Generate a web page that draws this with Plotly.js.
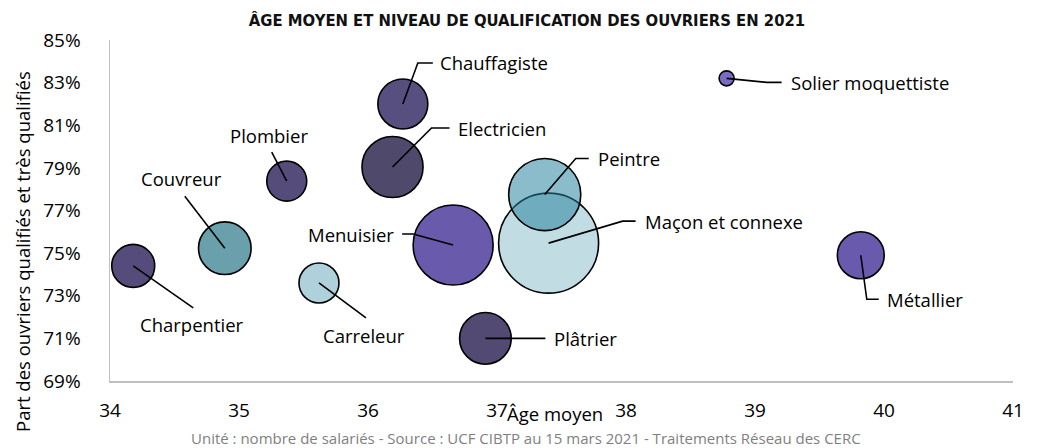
<!DOCTYPE html>
<html>
<head>
<meta charset="utf-8">
<script src="https://cdn.plot.ly/plotly-3.0.1.min.js"></script>
<style>html,body{margin:0;padding:0;background:#fff}#chart{width:1041px;height:448px}</style>
</head>
<body>
<div id="chart"></div>
<script>
// ---- Data ----
var metiers = ["Charpentier","Couvreur","Plombier","Carreleur","Menuisier","Electricien","Chauffagiste","Plâtrier","Maçon et connexe","Peintre","Solier moquettiste","Métallier"];
var ageMoyen = [34.18, 34.89, 35.37, 35.62, 36.66, 36.19, 36.27, 36.91, 37.40, 37.37, 38.78, 39.82];
var partQualifies = [0.744, 0.7523, 0.7838, 0.736, 0.7538, 0.7904, 0.820, 0.710, 0.7547, 0.7775, 0.832, 0.749];
var salaries = [27700, 41500, 24000, 24000, 96000, 56000, 37500, 40000, 150000, 78000, 3400, 33000];
var couleurs = ["#564c7c","#6aa0ac","#564c7c","#afd1db","#6a5aab","#4f4a6b","#574f80","#524a72","#c2dce3","rgba(40,131,159,0.54)","#7b6bc6","#6a5aae"];
// leader line geometry (pixel offsets from bubble centre) and label placement
var leaderPts = [
  [[0,0],[60,42]],
  [[0,0],[-40,-52]],
  [[0,0],[-15,-29]],
  [[0,0],[47,35]],
  [[0,0],[-40,-11],[-51,-11]],
  [[0,0],[39,-39],[57,-39]],
  [[0,0],[15,-41],[30,-41]],
  [[0,0],[60,0]],
  [[0,0],[74,-22],[87,-22]],
  [[0,0],[31,-36],[44,-36]],
  [[0,0],[40,4],[55,4]],
  [[0,0],[6,44],[18,44]]
];
var labelPos = [[59,59,"center"],[-43,-70,"center"],[-18,-46,"center"],[45,53,"center"],[-57,-11,"right"],[63,-39,"left"],[35,-41,"left"],[67,0,"left"],[94,-22,"left"],[51,-36,"left"],[62,4,"left"],[24,44,"left"]];

var xRange = [34, 41], yRange = [0.69, 0.85];
var M = {l:110, r:28, t:40, b:67};
var W = 1041, H = 448;
var pw = W - M.l - M.r, ph = H - M.t - M.b;
var ux = (xRange[1]-xRange[0])/pw, uy = (yRange[1]-yRange[0])/ph;
var FS = 18.5;

var lx = [], ly = [], ann = [];
for (var i = 0; i < metiers.length; i++) {
  leaderPts[i].forEach(function(p){ lx.push(ageMoyen[i] + p[0]*ux); ly.push(partQualifies[i] - p[1]*uy); });
  lx.push(null); ly.push(null);
  ann.push({x: ageMoyen[i] + labelPos[i][0]*ux, y: partQualifies[i] - labelPos[i][1]*uy, xref:'x', yref:'y',
    text: metiers[i], showarrow:false, xanchor: labelPos[i][2], yanchor:'middle',
    font:{family:'Open Sans', size:FS, color:'#000'}});
}
ann.push({text:'Part des ouvriers qualifiés et très qualifiés', textangle:-90, xref:'paper', yref:'paper',
  x:(22-M.l)/pw, y:(H-M.b-252)/ph, showarrow:false, xanchor:'center', yanchor:'middle',
  font:{family:'Open Sans', size:FS, color:'#000'}});
ann.push({text:'Âge moyen', xref:'paper', yref:'paper', x:(555-M.l)/pw, y:(H-M.b-414)/ph, showarrow:false,
  xanchor:'center', yanchor:'middle', font:{family:'Open Sans', size:FS, color:'#000'}});
ann.push({text:'Unité : nombre de salariés - Source : UCF CIBTP au 15 mars 2021 - Traitements Réseau des CERC', xref:'paper', yref:'paper',
  x:(526-M.l)/pw, y:(H-M.b-438)/ph, showarrow:false, xanchor:'center', yanchor:'middle',
  font:{family:'Open Sans', size:15, color:'#7f7f7f'}});

var bubbles = {
  type:'scatter', mode:'markers', x: ageMoyen, y: partQualifies, text: metiers, hoverinfo:'text',
  marker:{size: salaries, sizemode:'area', sizeref:30, color: couleurs, line:{color:'#000', width:1.6}, opacity:1},
  cliponaxis:false
};
var leaders = {type:'scatter', mode:'lines', x: lx, y: ly, line:{color:'#000', width:1.6}, hoverinfo:'skip', connectgaps:false, cliponaxis:false};

var layout = {
  width: W, height: H, margin: M, showlegend:false,
  paper_bgcolor:'#fff', plot_bgcolor:'#fff',
  title:{text:'ÂGE MOYEN ET NIVEAU DE QUALIFICATION DES OUVRIERS EN 2021', x:527/W, xanchor:'center', y:1-20/H, yanchor:'middle',
    font:{family:'DejaVu Sans Condensed', size:16.5, weight:'bold', color:'#111'}},
  xaxis:{range:xRange, tickvals:[34,35,36,37,38,39,40,41], showgrid:false, zeroline:false, showline:true, linecolor:'#bfbfbf', linewidth:1.5,
    ticks:'', ticklabelstandoff:12, tickfont:{family:'Open Sans', size:19, color:'#000'}},
  yaxis:{range:yRange, tickvals:[0.69,0.71,0.73,0.75,0.77,0.79,0.81,0.83,0.85], tickformat:'.0%', showgrid:false, zeroline:false,
    showline:true, linecolor:'#bfbfbf', linewidth:1.5, ticks:'', ticklabelstandoff:24, tickfont:{family:'Open Sans', size:19, color:'#000'}},
  annotations: ann
};
Plotly.newPlot('chart', [bubbles, leaders], layout, {displayModeBar:false, staticPlot:true});
</script>
</body>
</html>
